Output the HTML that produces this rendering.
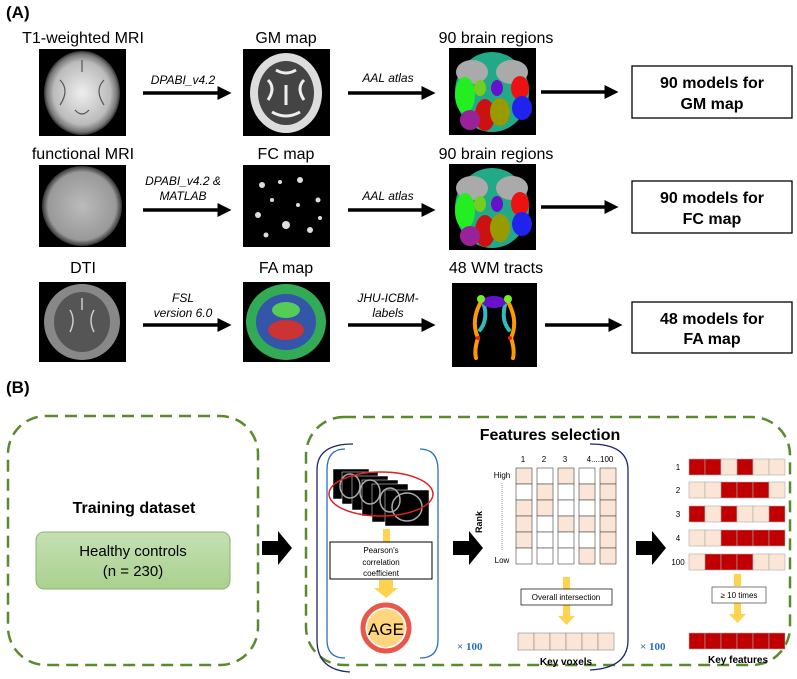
<!DOCTYPE html>
<html><head><meta charset="utf-8"><style>
body{margin:0;background:#fff;}
svg{display:block;font-family:"Liberation Sans",Arial,sans-serif;}
</style></head><body>
<svg width="797" height="679" viewBox="0 0 797 679" xmlns="http://www.w3.org/2000/svg">
<defs>
<marker id="ah" markerWidth="4" markerHeight="4" refX="3" refY="2" orient="auto" markerUnits="strokeWidth"><path d="M0,0 L4,2 L0,4 z" fill="#000"/></marker>
<radialGradient id="mri" cx="50%" cy="50%" r="50%"><stop offset="0" stop-color="#eee"/><stop offset="0.75" stop-color="#bbb"/><stop offset="0.92" stop-color="#777"/><stop offset="1" stop-color="#333"/></radialGradient>
<radialGradient id="fmri" cx="50%" cy="50%" r="50%"><stop offset="0" stop-color="#bbb"/><stop offset="0.85" stop-color="#999"/><stop offset="1" stop-color="#333"/></radialGradient>
<linearGradient id="hc" x1="0" y1="0" x2="0" y2="1"><stop offset="0" stop-color="#c5e0b4"/><stop offset="1" stop-color="#a9d18e"/></linearGradient>
</defs>
<text x="6" y="18" font-size="17" font-weight="bold">(A)</text>
<g font-size="16" text-anchor="middle">
<text x="83" y="43">T1-weighted MRI</text>
<text x="286" y="43">GM map</text>
<text x="496" y="43">90 brain regions</text>
<text x="83" y="159">functional MRI</text>
<text x="286" y="159">FC map</text>
<text x="496" y="159">90 brain regions</text>
<text x="83" y="273">DTI</text>
<text x="286" y="273">FA map</text>
<text x="496" y="273">48 WM tracts</text>
</g>
<!-- images row1 -->
<rect x="39" y="49" width="87" height="87" fill="#000"/>
<ellipse cx="82" cy="93" rx="38" ry="42" fill="url(#mri)"/>
<g stroke="#555" stroke-width="1.2" fill="none"><path d="M60,80 q10,10 0,25"/><path d="M104,80 q-10,10 0,25"/><path d="M75,110 q7,8 14,0"/><path d="M82,60 v12"/></g>
<rect x="243" y="49" width="87" height="87" fill="#000"/>
<ellipse cx="286" cy="93" rx="36" ry="40" fill="#ddd"/>
<ellipse cx="286" cy="93" rx="28" ry="32" fill="#444"/>
<g stroke="#eee" stroke-width="3" fill="none"><path d="M268,80 q8,8 0,20"/><path d="M304,80 q-8,8 0,20"/><path d="M276,70 q10,6 20,0"/><path d="M272,112 q14,8 28,0"/><path d="M286,85 v20"/></g>
<rect x="449" y="48" width="87" height="87" fill="#000"/>
<g>
<ellipse cx="492" cy="92" rx="37" ry="40" fill="#2a8"/>
<ellipse cx="472" cy="72" rx="16" ry="12" fill="#aaa"/><ellipse cx="512" cy="72" rx="16" ry="12" fill="#aaa"/>
<ellipse cx="465" cy="95" rx="10" ry="18" fill="#2e2"/><ellipse cx="520" cy="88" rx="9" ry="12" fill="#e11"/>
<ellipse cx="522" cy="108" rx="10" ry="12" fill="#22e"/><ellipse cx="485" cy="115" rx="10" ry="16" fill="#c11"/>
<ellipse cx="500" cy="112" rx="10" ry="14" fill="#990"/><ellipse cx="470" cy="120" rx="10" ry="10" fill="#929"/>
<ellipse cx="497" cy="88" rx="6" ry="8" fill="#61c"/><ellipse cx="480" cy="88" rx="6" ry="8" fill="#7c2"/>
</g>
<!-- row2 -->
<rect x="39" y="165" width="87" height="82" fill="#000"/>
<ellipse cx="82" cy="206" rx="40" ry="40" fill="url(#fmri)"/>
<rect x="243" y="165" width="87" height="82" fill="#000"/>
<g fill="#ddd"><circle cx="262" cy="185" r="3"/><circle cx="300" cy="180" r="3"/><circle cx="318" cy="200" r="2.5"/><circle cx="258" cy="215" r="3"/><circle cx="286" cy="225" r="4"/><circle cx="310" cy="230" r="3"/><circle cx="272" cy="200" r="2"/><circle cx="298" cy="205" r="2"/><circle cx="266" cy="235" r="2.5"/><circle cx="320" cy="218" r="2"/><circle cx="280" cy="182" r="2"/></g>
<rect x="449" y="164" width="87" height="86" fill="#000"/>
<g>
<ellipse cx="492" cy="208" rx="37" ry="40" fill="#2a8"/>
<ellipse cx="472" cy="188" rx="16" ry="12" fill="#aaa"/><ellipse cx="512" cy="188" rx="16" ry="12" fill="#aaa"/>
<ellipse cx="465" cy="211" rx="10" ry="18" fill="#2e2"/><ellipse cx="520" cy="204" rx="9" ry="12" fill="#e11"/>
<ellipse cx="522" cy="224" rx="10" ry="12" fill="#22e"/><ellipse cx="485" cy="231" rx="10" ry="16" fill="#c11"/>
<ellipse cx="500" cy="228" rx="10" ry="14" fill="#990"/><ellipse cx="470" cy="236" rx="10" ry="10" fill="#929"/>
<ellipse cx="497" cy="204" rx="6" ry="8" fill="#61c"/><ellipse cx="480" cy="204" rx="6" ry="8" fill="#7c2"/>
</g>
<!-- row3 -->
<rect x="39" y="282" width="87" height="80" fill="#000"/>
<ellipse cx="82" cy="322" rx="38" ry="38" fill="#888"/>
<ellipse cx="82" cy="322" rx="28" ry="30" fill="#555"/>
<g stroke="#ccc" stroke-width="1.5" fill="none"><path d="M70,310 q6,10 0,22"/><path d="M94,310 q-6,10 0,22"/><path d="M82,298 v12"/></g>
<rect x="243" y="282" width="87" height="80" fill="#000"/>
<ellipse cx="286" cy="322" rx="40" ry="38" fill="#3a5"/>
<ellipse cx="286" cy="322" rx="30" ry="28" fill="#35a"/>
<ellipse cx="286" cy="330" rx="18" ry="10" fill="#c33"/>
<ellipse cx="286" cy="310" rx="14" ry="8" fill="#5c5"/>
<rect x="452" y="283" width="85" height="84" fill="#000"/>
<g fill="none" stroke-width="4" stroke-linecap="round">
<path d="M482,300 Q470,320 478,338 Q474,350 476,358" stroke="#f90"/>
<path d="M507,300 Q519,320 511,338 Q515,350 513,358" stroke="#f90"/>
<path d="M484,305 Q488,320 480,330" stroke="#3bb"/><path d="M505,305 Q501,320 509,330" stroke="#3bb"/>
</g>
<ellipse cx="494" cy="302" rx="12" ry="6" fill="#61c"/>
<circle cx="481" cy="299" r="4" fill="#7e2"/><circle cx="508" cy="299" r="4" fill="#7e2"/>
<circle cx="478" cy="338" r="2" fill="#e21"/><circle cx="510" cy="338" r="2" fill="#e21"/>
<g stroke="#000" stroke-width="3.5" fill="none" marker-end="url(#ah)">
<line x1="143" y1="93" x2="228" y2="93"/>
<line x1="348" y1="93" x2="432" y2="93"/>
<line x1="541" y1="92" x2="615" y2="92"/>
<line x1="143" y1="210" x2="228" y2="210"/>
<line x1="348" y1="210" x2="432" y2="210"/>
<line x1="541" y1="207" x2="615" y2="207"/>
<line x1="143" y1="325" x2="228" y2="325"/>
<line x1="348" y1="325" x2="432" y2="325"/>
<line x1="545" y1="325" x2="619" y2="325"/>
</g>
<g font-size="12" font-style="italic" text-anchor="middle">
<text x="183" y="84">DPABI_v4.2</text>
<text x="388" y="82">AAL atlas</text>
<text x="183" y="185">DPABI_v4.2 &amp;</text>
<text x="183" y="200">MATLAB</text>
<text x="388" y="200">AAL atlas</text>
<text x="183" y="302">FSL</text>
<text x="183" y="317">version 6.0</text>
<text x="388" y="302">JHU-ICBM-</text>
<text x="388" y="317">labels</text>
</g>
<g fill="#fff" stroke="#000" stroke-width="1.3">
<rect x="632" y="66" width="160" height="52"/>
<rect x="632" y="181" width="160" height="52"/>
<rect x="632" y="302" width="160" height="51"/>
</g>
<g font-size="16" font-weight="bold" text-anchor="middle">
<text x="712" y="88">90 models for</text><text x="712" y="109">GM map</text>
<text x="712" y="203">90 models for</text><text x="712" y="224">FC map</text>
<text x="712" y="324">48 models for</text><text x="712" y="344">FA map</text>
</g>
<text x="6" y="393" font-size="17" font-weight="bold">(B)</text>
<g fill="none" stroke="#5a8a2e" stroke-width="2.5" stroke-dasharray="12,7">
<rect x="8" y="416" width="250" height="249" rx="38"/>
<rect x="306" y="417" width="484" height="248" rx="38"/>
</g>
<text x="134" y="513" font-size="16" font-weight="bold" text-anchor="middle">Training dataset</text>
<rect x="36" y="532" width="194" height="57" rx="8" fill="url(#hc)" stroke="#8ab56e"/>
<text x="133" y="556" font-size="15" text-anchor="middle">Healthy controls</text>
<text x="133" y="576" font-size="15" text-anchor="middle">(n = 230)</text>
<g fill="#000">
<path d="M262,541 h16 v-10 l14,17 l-14,17 v-10 h-16z"/>
<path d="M453,541 h16 v-10 l14,17 l-14,17 v-10 h-16z"/>
<path d="M636,541 h16 v-10 l14,17 l-14,17 v-10 h-16z"/>
</g>
<text x="550" y="440" font-size="16" font-weight="bold" text-anchor="middle">Features selection</text>
<g fill="none" stroke-width="1.3">
<path d="M353,444 Q317,444 317,470 V640 Q317,670 350,672" stroke="#1a2a6a"/>
<path d="M590,444 Q628,444 628,470 V640 Q628,668 590,670" stroke="#1a2a6a"/>
<path d="M345,449 Q327,449 327,470 V640 Q327,658 345,658" stroke="#2a6fc0"/>
<path d="M420,449 Q438,449 438,470 V640 Q438,658 420,658" stroke="#2a6fc0"/>
</g>
<g stroke="#fff" stroke-width="0.5">
<rect x="333" y="469" width="36" height="30" fill="#000"/>
<rect x="342" y="472" width="36" height="32" fill="#000"/>
<rect x="352" y="476" width="36" height="34" fill="#000"/>
<rect x="362" y="480" width="36" height="36" fill="#000"/>
<rect x="372" y="484" width="36" height="38" fill="#000"/>
<rect x="385" y="490" width="44" height="36" fill="#000"/>
</g>
<g fill="none" stroke="#aaa" stroke-width="1.5"><ellipse cx="407" cy="507" rx="15" ry="14"/><ellipse cx="390" cy="500" rx="10" ry="12"/><ellipse cx="370" cy="492" rx="10" ry="12"/><ellipse cx="350" cy="486" rx="10" ry="12"/></g>
<ellipse cx="381" cy="494" rx="52" ry="22" fill="none" stroke="#d22" stroke-width="1.5"/>
<g fill="#ffd34d">
<rect x="383" y="529" width="7" height="13"/>
<path d="M379,580 h14 v8 h5 l-12,10 l-12,-10 h5z"/>
<path d="M563,577 h7 v12 h5 l-8.5,9 l-8.5,-9 h5z"/>
<path d="M563,605 h7 v11 h5 l-8.5,9 l-8.5,-9 h5z"/>
<path d="M734,574 h7 v12 h-7z"/>
<path d="M734,603 h7 v11 h5 l-8.5,9 l-8.5,-9 h5z"/>
</g>
<rect x="330" y="542" width="102" height="37" fill="#fff" stroke="#000"/>
<g font-size="8" text-anchor="middle"><text x="381" y="553">Pearson's</text><text x="381" y="565">correlation</text><text x="381" y="576">coefficient</text></g>
<circle cx="386" cy="628" r="23" fill="none" stroke="#e8574a" stroke-width="5"/>
<circle cx="386" cy="628" r="19" fill="#ffd580"/>
<text x="386" y="635" font-size="17" text-anchor="middle">AGE</text>
<g font-family="'Liberation Serif',serif" font-weight="bold" font-size="11" fill="#2a6fc0"><text x="457" y="650">× 100</text><text x="640" y="650">× 100</text></g>
<g font-size="8" text-anchor="middle"><text x="523" y="462">1</text><text x="544" y="462">2</text><text x="565" y="462">3</text><text x="600" y="462">4....100</text>
<text x="502" y="478">High</text><text x="502" y="563">Low</text></g>
<line x1="502" y1="483" x2="502" y2="550" stroke="#666" stroke-width="0.7" stroke-dasharray="1,1"/>
<text x="482" y="522" font-size="9" font-weight="bold" text-anchor="middle" transform="rotate(-90 482 522)">Rank</text>
<g stroke="#444" stroke-width="0.6">
<rect x="516" y="468" width="16" height="16" fill="#fbe5d6"/><rect x="516" y="484" width="16" height="16" fill="#fff"/><rect x="516" y="500" width="16" height="16" fill="#fbe5d6"/><rect x="516" y="516" width="16" height="16" fill="#fbe5d6"/><rect x="516" y="532" width="16" height="16" fill="#fbe5d6"/><rect x="516" y="548" width="16" height="16" fill="#fff"/>
<rect x="537" y="468" width="16" height="16" fill="#fff"/><rect x="537" y="484" width="16" height="16" fill="#fbe5d6"/><rect x="537" y="500" width="16" height="16" fill="#fbe5d6"/><rect x="537" y="516" width="16" height="16" fill="#fff"/><rect x="537" y="532" width="16" height="16" fill="#fff"/><rect x="537" y="548" width="16" height="16" fill="#fff"/>
<rect x="558" y="468" width="16" height="16" fill="#fbe5d6"/><rect x="558" y="484" width="16" height="16" fill="#fff"/><rect x="558" y="500" width="16" height="16" fill="#fff"/><rect x="558" y="516" width="16" height="16" fill="#fbe5d6"/><rect x="558" y="532" width="16" height="16" fill="#fff"/><rect x="558" y="548" width="16" height="16" fill="#fff"/>
<rect x="579" y="468" width="16" height="16" fill="#fff"/><rect x="579" y="484" width="16" height="16" fill="#fbe5d6"/><rect x="579" y="500" width="16" height="16" fill="#fff"/><rect x="579" y="516" width="16" height="16" fill="#fbe5d6"/><rect x="579" y="532" width="16" height="16" fill="#fff"/><rect x="579" y="548" width="16" height="16" fill="#fbe5d6"/>
<rect x="600" y="468" width="16" height="16" fill="#fbe5d6"/><rect x="600" y="484" width="16" height="16" fill="#fbe5d6"/><rect x="600" y="500" width="16" height="16" fill="#fbe5d6"/><rect x="600" y="516" width="16" height="16" fill="#fbe5d6"/><rect x="600" y="532" width="16" height="16" fill="#fbe5d6"/><rect x="600" y="548" width="16" height="16" fill="#fbe5d6"/>
</g>
<rect x="521" y="589" width="91" height="16" fill="#fff" stroke="#000" stroke-width="0.7"/>
<text x="566" y="600" font-size="8" text-anchor="middle">Overall intersection</text>
<g fill="#fbe5d6" stroke="#888" stroke-width="0.6">
<rect x="518" y="633" width="16" height="17"/><rect x="534" y="633" width="16" height="17"/><rect x="550" y="633" width="16" height="17"/><rect x="566" y="633" width="16" height="17"/><rect x="582" y="633" width="16" height="17"/><rect x="598" y="633" width="16" height="17"/>
</g>
<text x="566" y="665" font-size="10" font-weight="bold" text-anchor="middle">Key voxels</text>
<g font-size="8" text-anchor="middle"><text x="678" y="470">1</text><text x="678" y="493">2</text><text x="678" y="517">3</text><text x="678" y="541">4</text><text x="678" y="565">100</text></g>
<g stroke="#aaa" stroke-width="0.6">
<g transform="translate(689,459)"><rect x="0" width="16" height="16" fill="#c00000"/><rect x="16" width="16" height="16" fill="#c00000"/><rect x="32" width="16" height="16" fill="#fbe5d6"/><rect x="48" width="16" height="16" fill="#c00000"/><rect x="64" width="16" height="16" fill="#fbe5d6"/><rect x="80" width="16" height="16" fill="#fbe5d6"/></g>
<g transform="translate(689,482)"><rect x="0" width="16" height="16" fill="#fbe5d6"/><rect x="16" width="16" height="16" fill="#fbe5d6"/><rect x="32" width="16" height="16" fill="#c00000"/><rect x="48" width="16" height="16" fill="#c00000"/><rect x="64" width="16" height="16" fill="#c00000"/><rect x="80" width="16" height="16" fill="#fbe5d6"/></g>
<g transform="translate(689,506)"><rect x="0" width="16" height="16" fill="#c00000"/><rect x="16" width="16" height="16" fill="#fbe5d6"/><rect x="32" width="16" height="16" fill="#c00000"/><rect x="48" width="16" height="16" fill="#fbe5d6"/><rect x="64" width="16" height="16" fill="#fbe5d6"/><rect x="80" width="16" height="16" fill="#c00000"/></g>
<g transform="translate(689,530)"><rect x="0" width="16" height="16" fill="#fbe5d6"/><rect x="16" width="16" height="16" fill="#fbe5d6"/><rect x="32" width="16" height="16" fill="#c00000"/><rect x="48" width="16" height="16" fill="#c00000"/><rect x="64" width="16" height="16" fill="#c00000"/><rect x="80" width="16" height="16" fill="#c00000"/></g>
<g transform="translate(689,554)"><rect x="0" width="16" height="16" fill="#fbe5d6"/><rect x="16" width="16" height="16" fill="#c00000"/><rect x="32" width="16" height="16" fill="#c00000"/><rect x="48" width="16" height="16" fill="#c00000"/><rect x="64" width="16" height="16" fill="#fbe5d6"/><rect x="80" width="16" height="16" fill="#fbe5d6"/></g>
<g transform="translate(689,633)"><rect x="0" width="16" height="16" fill="#c00000"/><rect x="16" width="16" height="16" fill="#c00000"/><rect x="32" width="16" height="16" fill="#c00000"/><rect x="48" width="16" height="16" fill="#c00000"/><rect x="64" width="16" height="16" fill="#c00000"/><rect x="80" width="16" height="16" fill="#c00000"/></g>
</g>
<rect x="712" y="587" width="54" height="16" fill="#fff" stroke="#444" stroke-width="0.7"/>
<text x="739" y="598" font-size="8" text-anchor="middle">≥ 10 times</text>
<text x="738" y="663" font-size="10" font-weight="bold" text-anchor="middle">Key features</text>
</svg>
</body></html>
